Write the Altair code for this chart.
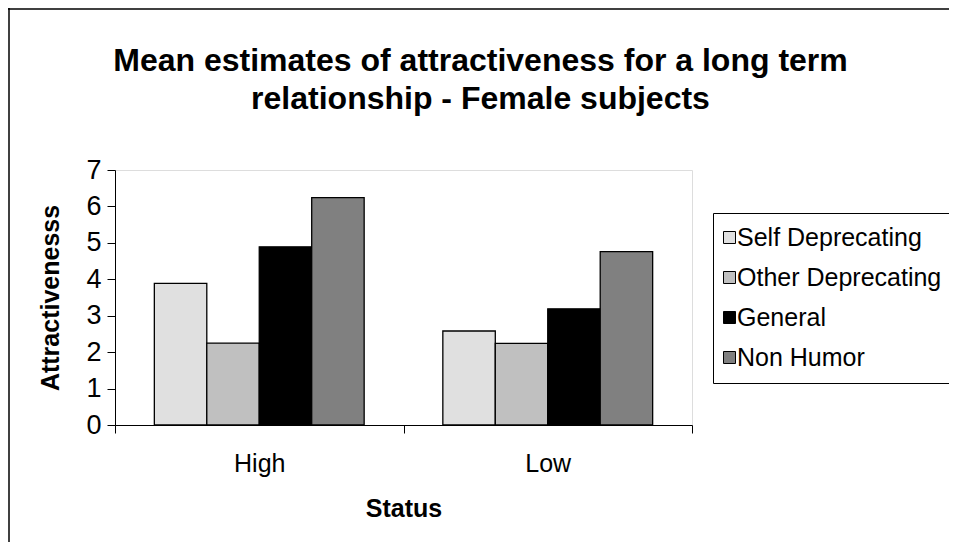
import altair as alt
import pandas as pd

status = ["High", "Low"]
humor_types = ["Self Deprecating", "Other Deprecating", "General", "Non Humor"]
high_values = [3.89, 2.25, 4.89, 6.24]
low_values = [2.58, 2.24, 3.19, 4.76]
colors = ["#e0e0e0", "#c0c0c0", "#000000", "#808080"]
y_ticks = [0, 1, 2, 3, 4, 5, 6, 7]
title_lines = ["Mean estimates of attractiveness for a long term",
               "relationship - Female subjects"]

rows = []
for s, vals in zip(status, [high_values, low_values]):
    for h, v in zip(humor_types, vals):
        rows.append({"Status": s, "Humor": h, "value": v})
df = pd.DataFrame(rows)

FONT = "Liberation Sans"
W, H = 577, 255

bars = alt.Chart(df).mark_bar(stroke="black", strokeWidth=1.3).encode(
    x=alt.X("Status:N", sort=status,
            scale=alt.Scale(paddingInner=0, paddingOuter=0),
            axis=alt.Axis(title="Status", labelAngle=0, tickBand="extent",
                          domainColor="black", tickColor="black", tickSize=8,
                          labelFontSize=25, labelColor="black", labelPadding=18,
                          titleFontSize=25, titleFontWeight="bold", titleColor="black",
                          titlePadding=20, labelFont=FONT, titleFont=FONT)),
    xOffset=alt.XOffset("Humor:N", sort=humor_types,
                        scale=alt.Scale(paddingInner=0, paddingOuter=0.75)),
    y=alt.Y("value:Q", scale=alt.Scale(domain=[0, 7], nice=False),
            axis=alt.Axis(values=y_ticks, title="Attractivenesss", grid=False,
                          domainColor="black", tickColor="black", tickSize=8,
                          labelFontSize=27, labelColor="black", labelPadding=6,
                          titleFontSize=25, titleFontWeight="bold", titleColor="black",
                          titlePadding=22, labelFont=FONT, titleFont=FONT)),
    color=alt.Color("Humor:N", sort=humor_types,
                    scale=alt.Scale(domain=humor_types, range=colors),
                    legend=alt.Legend(title=None, orient="none", legendX=598, legendY=43,
                                      strokeColor="black", fillColor="white", padding=12,
                                      labelFontSize=25, labelFont=FONT, labelColor="black",
                                      labelLimit=400,
                                      symbolType="square", symbolSize=144,
                                      symbolStrokeColor="black", symbolStrokeWidth=1,
                                      symbolOffset=-8,
                                      rowPadding=14, labelOffset=alt.ExprRef("-5"))),
)

frame_df = pd.DataFrame({"k": [0]})
left_line = alt.Chart(frame_df).mark_rule(color="black", strokeWidth=1.5).encode(
    x=alt.value(-106), y=alt.value(-162), y2=alt.value(400))
top_line = alt.Chart(frame_df).mark_rule(color="black", strokeWidth=1.5).encode(
    x=alt.value(-107), x2=alt.value(900), y=alt.value(-161))

chart = alt.layer(bars, left_line, top_line).properties(
    width=W, height=H,
    autosize=alt.AutoSizeParams(type="none"),
    padding={"left": 107, "top": 162, "right": 257, "bottom": 117},
    title=alt.TitleParams(text=title_lines, fontSize=32, fontWeight="bold", font=FONT,
                          color="black", anchor="middle", dx=77, lineHeight=38,
                          offset=-109),
).configure_view(stroke=None).configure(font=FONT)

chart.save("out.html", embed_options={"renderer": "svg", "actions": False})
